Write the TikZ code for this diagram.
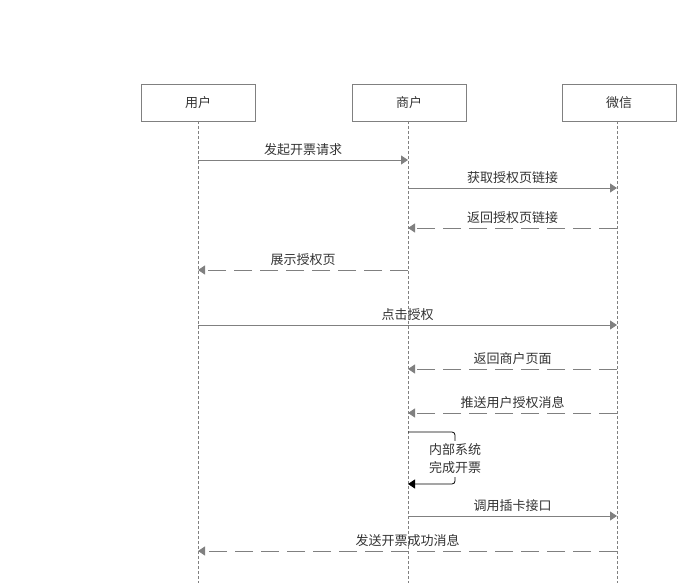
\documentclass[tikz,border=0pt]{standalone}
\usepackage{fontspec}
\setmainfont{Noto Sans CJK SC}
\usetikzlibrary{arrows.meta,positioning}
\definecolor{lgray}{HTML}{808080}
\definecolor{tgray}{HTML}{333333}

\tikzset{
  actor/.style={draw=lgray,minimum width=114pt,minimum height=37pt,inner sep=0pt,text=tgray},
  life/.style={lgray,dash pattern=on 3pt off 2pt,line width=0.6pt},
  msg/.style={lgray,line width=0.8pt,-{Triangle[length=7pt,width=9pt]}},
  reply/.style={msg,dash pattern=on 18pt off 8pt},
  lbl/.style={text=tgray,inner sep=0pt}
}

\begin{document}
\begin{tikzpicture}[x=1pt,y=-1pt,font=\fontsize{13}{15}\selectfont]
  \useasboundingbox (0,0) rectangle (677,583);
  % participants
  \node[actor] (user) at (198,102.5) {用户};
  \node[actor] (shop) at (409,102.5) {商户};
  \node[actor] (wx) at (619,102.5) {微信};
  \coordinate (userE) at (198,583);
  \coordinate (shopE) at (408,583);
  \coordinate (wxE) at (617,583);
  \draw[life] (198,121)--(userE);
  \draw[life] (408,121)--(shopE);
  \draw[life] (617,121)--(wxE);
  % anchor points on the lifelines
  \foreach \n/\y in {1/160,2/188,3/228,4/270,5/325,6/369,7/413,8/432,9/484,10/516,11/551}{
    \coordinate (u\n) at (198,\y);
    \coordinate (s\n) at (408,\y);
    \coordinate (w\n) at (617,\y);
  }
  % messages
  \draw[msg] (u1)--(s1) node[lbl,midway,above=4pt]{发起开票请求};
  \draw[msg] (s2)--(w2) node[lbl,midway,above=4pt]{获取授权页链接};
  \draw[reply] (w3)--(s3) node[lbl,midway,above=4pt]{返回授权页链接};
  \draw[reply] (s4)--(u4) node[lbl,midway,above=4pt]{展示授权页};
  \draw[msg] (u5)--(w5) node[lbl,midway,above=4pt]{点击授权};
  \draw[reply] (w6)--(s6) node[lbl,midway,above=4pt]{返回商户页面};
  \draw[reply] (w7)--(s7) node[lbl,midway,above=4pt]{推送用户授权消息};
  % self call
  \coordinate (selfR) at (455,458);
  \draw[black,line width=0.8pt,rounded corners=3pt,-{Triangle[length=7pt,width=9pt]}]
    (s8)--(selfR|-s8)--(selfR|-s9)--(s9);
  \node[lbl,align=left,anchor=west,fill=white,inner ysep=3pt,
    font=\fontsize{13}{18}\selectfont] (selfL) at (429,459) {内部系统\\完成开票};
  \draw[msg] (s10)--(w10) node[lbl,midway,above=4pt]{调用插卡接口};
  \draw[reply] (w11)--(u11) node[lbl,midway,above=4pt]{发送开票成功消息};
\end{tikzpicture}
\end{document}
